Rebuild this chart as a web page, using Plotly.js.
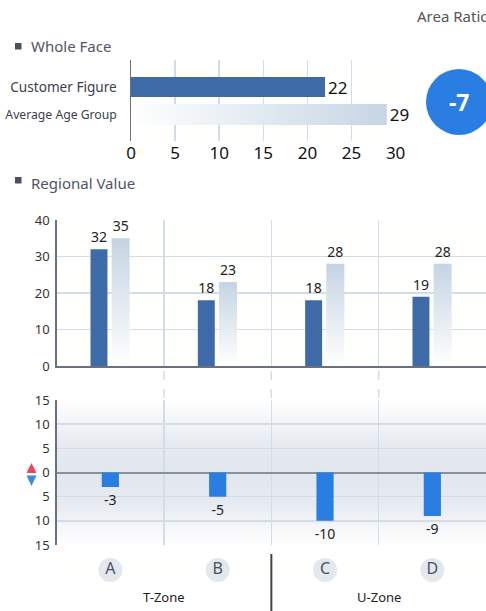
<!DOCTYPE html>
<html>
<head>
<meta charset="utf-8">
<script src="https://cdn.plot.ly/plotly-3.0.1.min.js"></script>
<style>
html,body{margin:0;padding:0;background:#fff;overflow:hidden;}
#chart{width:486px;height:611px;}
</style>
</head>
<body>
<div id="chart"></div>
<script>
// ---- data ----
const topCategories = ['Customer Figure', 'Average Age Group'];
const topValues = [22, 29];
const areaRatio = -7;
const regions = ['A', 'B', 'C', 'D'];
const zones = ['T-Zone', 'T-Zone', 'U-Zone', 'U-Zone'];
const customerFigure = [32, 18, 18, 19];
const averageAge = [35, 23, 28, 28];
const difference = [-3, -5, -10, -9];
const diffTickVals = [-15, -10, -5, 0, 5, 10, 15];
const diffTickText = ['15', '10', '5', '0', '5', '10', '15'];
const topTickVals = [0, 5, 10, 15, 20, 25, 30];

// ---- helpers ----
const W = 486, H = 611;
const px = v => v / W;
const py = v => 1 - v / H;
const FONT = '"Noto Sans", "Open Sans", sans-serif';
const GRID = '#d3dde9';
const AXIS = '#6b7080';
const DARK = '#3f6aa8';
const HGRAD = 'rgb(197, 213, 228)';
const VGRAD = 'rgb(197, 212, 227)';

const traces = [
  {type: 'bar', orientation: 'h', y: [topCategories[0]], x: [topValues[0]],
   xaxis: 'x', yaxis: 'y', marker: {color: DARK}, width: 0.73,
   text: [String(topValues[0])], textposition: 'outside', constraintext: 'none',
   cliponaxis: false, textfont: {size: 17, color: '#111'}, hoverinfo: 'none'},
  {type: 'bar', orientation: 'h', y: [topCategories[1]], x: [topValues[1]],
   xaxis: 'x', yaxis: 'y', marker: {color: HGRAD}, width: 0.76,
   text: [String(topValues[1])], textposition: 'outside', constraintext: 'none',
   cliponaxis: false, textfont: {size: 17, color: '#111'}, hoverinfo: 'none'},
  {type: 'bar', x: regions, y: customerFigure, xaxis: 'x2', yaxis: 'y2',
   marker: {color: DARK}, width: 0.158, offset: -0.185,
   text: customerFigure.map(String), textposition: 'outside', constraintext: 'none',
   cliponaxis: false, textfont: {size: 14, color: '#222'}, hoverinfo: 'none'},
  {type: 'bar', x: regions, y: averageAge, xaxis: 'x2', yaxis: 'y2',
   marker: {color: VGRAD}, width: 0.168, offset: 0.012,
   text: averageAge.map(String), textposition: 'outside', constraintext: 'none',
   cliponaxis: false, textfont: {size: 14, color: '#222'}, hoverinfo: 'none'},
  {type: 'bar', x: regions, y: difference, xaxis: 'x3', yaxis: 'y3',
   marker: {color: '#2a7de1'}, width: 0.16,
   text: difference.map(String), textposition: 'outside', constraintext: 'none',
   cliponaxis: false, textfont: {size: 14, color: '#222'}, hoverinfo: 'none'},
  {type: 'scatter', mode: 'markers+text', x: regions, y: regions.map(() => 0.5),
   xaxis: 'x4', yaxis: 'y4', marker: {size: 24, color: '#e3e7ee'},
   text: regions, textposition: 'middle center', cliponaxis: false,
   textfont: {size: 16, color: '#4a5263', family: FONT}, hoverinfo: 'none'}
];

// zone centers & boundaries from category indices
const zoneNames = [...new Set(zones)];
const zoneAnn = zoneNames.map(z => {
  const idx = zones.map((v, i) => v === z ? i : null).filter(v => v !== null);
  const c = (idx[0] + idx[idx.length - 1]) / 2;
  return {text: z, xref: 'x4', yref: 'paper', x: c, y: py(597), showarrow: false,
          font: {size: 13, color: '#222'}, xanchor: 'center', yanchor: 'middle'};
});
const zoneSeps = [];
for (let i = 1; i < zones.length; i++) {
  if (zones[i] !== zones[i - 1]) {
    zoneSeps.push({type: 'line', xref: 'x4', yref: 'paper', x0: i - 0.5, x1: i - 0.5,
                   y0: 0, y1: py(554), line: {color: '#444', width: 2}});
  }
}
const gapDashes = regions.slice(1).map((r, i) => ({
  type: 'line', xref: 'x2', yref: 'paper', x0: i + 0.5, x1: i + 0.5,
  y0: py(398), y1: py(367), line: {color: GRID, width: 1.5, dash: 'dash'}, layer: 'below'
}));
// small up/down indicator triangles (decoration, paper coords)
const tri = (pts) => 'M' + pts.map(p => px(p[0]) + ',' + py(p[1])).join(' L') + ' Z';
const indicator = [
  {type: 'path', xref: 'paper', yref: 'paper', path: tri([[26.5, 473], [36.5, 473], [31.5, 463]]),
   fillcolor: '#f0455a', line: {width: 0}},
  {type: 'path', xref: 'paper', yref: 'paper', path: tri([[26.5, 475.5], [36.5, 475.5], [31.5, 486]]),
   fillcolor: '#3a8ae0', line: {width: 0}}
];

const layout = {
  width: W, height: H,
  margin: {l: 0, r: 0, t: 0, b: 0},
  paper_bgcolor: '#ffffff', plot_bgcolor: '#fffffe',
  font: {family: FONT, color: '#333'},
  showlegend: false, barmode: 'overlay',
  xaxis: {domain: [px(131), px(395.6)], range: [0, 30], anchor: 'y',
          tickvals: topTickVals, showgrid: true, gridcolor: GRID, gridwidth: 1.5,
          zeroline: false, showline: false, ticks: '',
          tickfont: {size: 17, color: '#111'}, fixedrange: true},
  yaxis: {domain: [py(141), py(60)], type: 'category', categoryarray: topCategories,
          range: [1.964, -0.982], anchor: 'x', showgrid: false, zeroline: false,
          showline: true, linecolor: AXIS, linewidth: 1.5, ticks: '',
          tickvals: topCategories,
          ticktext: [topCategories[0], '<span style="font-size:12.2px">' + topCategories[1] + '</span>'],
          tickfont: {size: 13.6, color: '#3a3f4b'}, ticklabelstandoff: 10, fixedrange: true},
  xaxis2: {domain: [px(56.7), 1], type: 'category', categoryarray: regions,
           range: [-0.5, 3.5], anchor: 'y2', tickson: 'boundaries', showgrid: true,
           gridcolor: GRID, gridwidth: 1.5, showticklabels: false, ticks: '',
           showline: true, linecolor: AXIS, linewidth: 1.5, zeroline: false},
  yaxis2: {domain: [py(366), py(220)], range: [0, 40], dtick: 10, anchor: 'x2',
           showgrid: true, gridcolor: GRID, gridwidth: 1.5, zeroline: false,
           showline: true, linecolor: AXIS, linewidth: 1.5, ticks: '',
           tickfont: {size: 13, color: '#333'}, ticklabelstandoff: 3},
  xaxis3: {domain: [px(56.7), 1], type: 'category', categoryarray: regions,
           range: [-0.5, 3.5], anchor: 'y3', tickson: 'boundaries', showgrid: true,
           gridcolor: GRID, gridwidth: 1.5, showticklabels: false, ticks: '',
           showline: false, zeroline: false},
  yaxis3: {domain: [py(545), py(400)], range: [-15, 15], anchor: 'x3',
           tickvals: diffTickVals, ticktext: diffTickText,
           showgrid: true, gridcolor: GRID, gridwidth: 1.5,
           zeroline: true, zerolinecolor: '#8a9099', zerolinewidth: 2,
           showline: true, linecolor: AXIS, linewidth: 1.5, ticks: '',
           tickfont: {size: 13, color: '#333'}, ticklabelstandoff: 3},
  xaxis4: {domain: [px(56.7), 1], type: 'category', categoryarray: regions,
           range: [-0.5, 3.5], anchor: 'y4', visible: false},
  yaxis4: {domain: [py(585), py(555)], range: [0, 1], anchor: 'x4', visible: false},
  shapes: [
    {type: 'circle', xref: 'paper', yref: 'paper', x0: px(426), x1: px(492),
     y0: py(135), y1: py(69), fillcolor: '#2a7de1', line: {width: 0}},
    {type: 'rect', xref: 'paper', yref: 'paper', x0: px(15), x1: px(21.5),
     y0: py(49.5), y1: py(43), fillcolor: '#4a5060', line: {width: 0}},
    {type: 'rect', xref: 'paper', yref: 'paper', x0: px(15), x1: px(21.5),
     y0: py(183.5), y1: py(177), fillcolor: '#4a5060', line: {width: 0}},
    ...indicator,
    ...gapDashes,
    ...zoneSeps
  ],
  annotations: [
    {text: 'Area Ratio', xref: 'paper', yref: 'paper', x: px(415), y: py(16),
     xanchor: 'left', yanchor: 'middle', showarrow: false, font: {size: 15, color: '#555'}},
    {text: '<b>' + String(areaRatio) + '</b>', xref: 'paper', yref: 'paper', x: px(459), y: py(102),
     xanchor: 'center', yanchor: 'middle', showarrow: false, font: {size: 23, color: '#fff'}},
    {text: 'Whole Face', xref: 'paper', yref: 'paper', x: px(29), y: py(46),
     xanchor: 'left', yanchor: 'middle', showarrow: false, font: {size: 15, color: '#4f5565'}},
    {text: 'Regional Value', xref: 'paper', yref: 'paper', x: px(29), y: py(183),
     xanchor: 'left', yanchor: 'middle', showarrow: false, font: {size: 15, color: '#4f5565'}},
    ...zoneAnn
  ]
};

function norm(s) { return (s || '').replace(/\s+/g, ''); }

Plotly.newPlot('chart', traces, layout, {displayModeBar: false, staticPlot: true}).then(gd => {
  const NS = 'http://www.w3.org/2000/svg';
  const svg = gd.querySelector('svg.main-svg');
  let defs = svg.querySelector('defs');
  if (!defs) { defs = document.createElementNS(NS, 'defs'); svg.insertBefore(defs, svg.firstChild); }
  function grad(id, x2, y2, stops) {
    const g = document.createElementNS(NS, 'linearGradient');
    g.setAttribute('id', id);
    g.setAttribute('x1', '0'); g.setAttribute('y1', '0');
    g.setAttribute('x2', x2); g.setAttribute('y2', y2);
    stops.forEach(([o, c]) => {
      const s = document.createElementNS(NS, 'stop');
      s.setAttribute('offset', o); s.setAttribute('stop-color', c);
      g.appendChild(s);
    });
    defs.appendChild(g);
  }
  grad('hgrad', '1', '0', [['0', '#ffffff'], ['1', '#c6d5e4']]);
  grad('vgrad', '0', '1', [['0', '#c5d4e3'], ['1', '#ffffff']]);
  grad('bggrad', '0', '1', [['0', '#ffffff'], ['0.3', '#e7ebf1'], ['0.5', '#e1e7ee'], ['0.72', '#e7ebf1'], ['1', '#ffffff']]);
  gd.querySelectorAll('path').forEach(p => {
    const f = norm(p.style.fill);
    if (f === norm(HGRAD)) p.style.fill = 'url(#hgrad)';
    else if (f === norm(VGRAD)) p.style.fill = 'url(#vgrad)';
  });
  let done = false;
  try {
    const bg = gd._fullLayout._plots.x3y3.bg;
    if (bg && bg.node()) { bg.node().style.fill = 'url(#bggrad)'; done = true; }
  } catch (e) {}
  if (!done) {
    gd.querySelectorAll('rect.bg').forEach(r => {
      const y = parseFloat(r.getAttribute('y'));
      if (Math.abs(y - 400) < 3) r.style.fill = 'url(#bggrad)';
    });
  }
});
</script>
</body>
</html>
